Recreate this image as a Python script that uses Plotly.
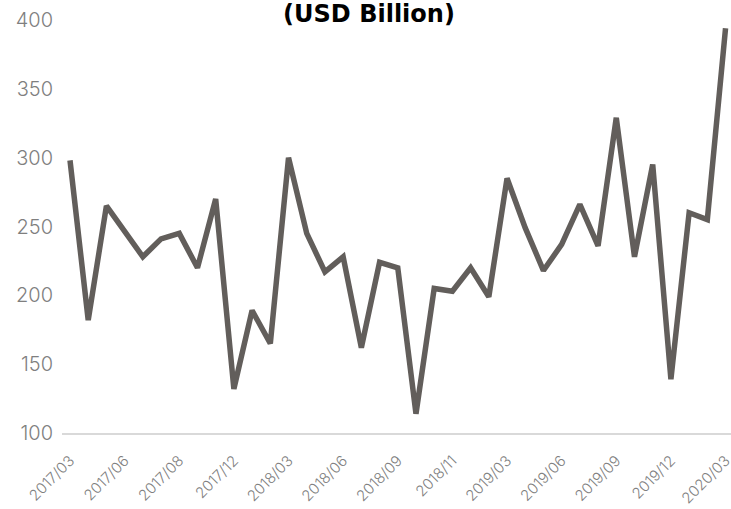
import plotly.graph_objects as go

# Monthly values, USD billion
values = [298, 182, 265, 247, 228, 241, 245, 220, 270, 132,
          189, 165, 300, 245, 217, 228, 162, 224, 220, 114,
          205, 203, 220, 199, 285, 249, 218, 237, 266, 236,
          329, 228, 295, 139, 260, 255, 394]
tick_labels = ["2017/03", "2017/06", "2017/08", "2017/12", "2018/03",
               "2018/06", "2018/09", "2018/11", "2019/03", "2019/06",
               "2019/09", "2019/12", "2020/03"]
tick_positions = list(range(0, len(values), 3))

x = list(range(len(values)))

fig = go.Figure(
    go.Scatter(
        x=x,
        y=values,
        mode="lines",
        line=dict(color="#625e5b", width=5.5),
        hoverinfo="skip",
    )
)

fig.update_layout(
    width=731,
    height=509,
    margin=dict(l=62, r=0, t=20, b=76, autoexpand=False),
    paper_bgcolor="white",
    plot_bgcolor="white",
    showlegend=False,
    font=dict(family="Inter, Lato, DejaVu Sans, sans-serif", color="#7f7f7f"),
    title=dict(
        text="<b>(USD Billion)</b>",
        x=369 / 731,
        xanchor="center",
        y=1 - 13.5 / 509,
        yanchor="middle",
        font=dict(family="DejaVu Sans, sans-serif", size=24, color="black"),
    ),
)

fig.update_xaxes(
    range=[-0.44, 36.3],
    tickmode="array",
    tickvals=tick_positions,
    ticktext=tick_labels,
    tickangle=-45,
    tickfont=dict(family="Inter, Lato, sans-serif", size=15,
                  color="#7f7f7f", weight=300),
    ticklabeloverflow="allow",
    ticklabelstandoff=11,
    automargin=False,
    showgrid=False,
    zeroline=False,
    showline=True,
    linecolor="#d9d9d9",
    linewidth=2,
    ticks="",
)

fig.update_yaxes(
    range=[100, 400],
    tickvals=[100, 150, 200, 250, 300, 350, 400],
    tickfont=dict(family="Inter, Lato, sans-serif", size=20,
                  color="#7f7f7f", weight=300),
    automargin=False,
    showgrid=False,
    zeroline=False,
    showline=False,
    ticks="",
    ticklabelstandoff=8,
)

fig.write_html("out.html")
